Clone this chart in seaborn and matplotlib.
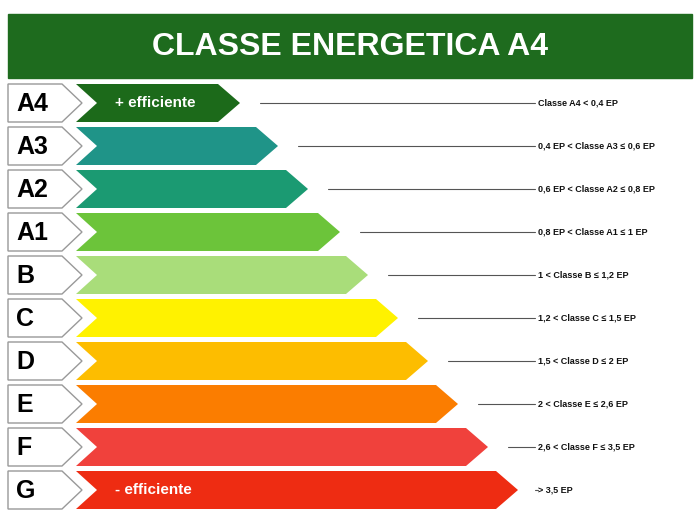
import matplotlib
matplotlib.use("Agg")
import matplotlib.pyplot as plt
from matplotlib.patches import Polygon, Rectangle
import seaborn as sns

sns.set_theme(style="white")
plt.rcParams['font.family'] = ['Liberation Sans', 'DejaVu Sans']

# classi, lunghezza freccia (punta, px) e soglie
classi = ["A4", "A3", "A2", "A1", "B", "C", "D", "E", "F", "G"]
punte = [240, 278, 308, 340, 368, 398, 428, 458, 488, 518]
soglie = [
    "Classe A4 < 0,4 EP",
    "0,4 EP < Classe A3 ≤ 0,6 EP",
    "0,6 EP < Classe A2 ≤ 0,8 EP",
    "0,8 EP < Classe A1 ≤ 1 EP",
    "1 < Classe B ≤ 1,2 EP",
    "1,2 < Classe C ≤ 1,5 EP",
    "1,5 < Classe D ≤ 2 EP",
    "2 < Classe E ≤ 2,6 EP",
    "2,6 < Classe F ≤ 3,5 EP",
    "> 3,5 EP",
]
colori = ["#1c6a1a", "#1f9488", "#1b9a72", "#6cc43a", "#a9dd7a",
          "#fff200", "#fdbd00", "#fb7d00", "#f0413c", "#ee2c12"]
note = {0: "+ efficiente", 9: "- efficiente"}

fig = plt.figure(figsize=(7, 5.25), dpi=100)
ax = fig.add_axes([0, 0, 1, 1])
ax.set_xlim(0, 700)
ax.set_ylim(525, 0)
ax.axis("off")

# banda del titolo
ax.add_patch(Rectangle((8, 14), 684, 64, color="#1e6b1e"))
ax.text(350, 47, "CLASSE ENERGETICA A4", color="white", fontsize=23,
        fontweight="bold", ha="center", va="center")

h = 19  # mezza altezza riga
for i, (c, tip, s, col) in enumerate(zip(classi, punte, soglie, colori)):
    y = 103 + 43 * i
    # etichetta a sinistra
    ax.add_patch(Polygon([(8, y - h), (62, y - h), (82, y), (62, y + h), (8, y + h)],
                         closed=True, facecolor="white", edgecolor="#999999", lw=1))
    ax.text(16, y + 1, c, fontsize=18, fontweight="bold", va="center", color="black")
    # freccia colorata
    ax.add_patch(Polygon([(76, y - h), (tip - 22, y - h), (tip, y), (tip - 22, y + h),
                          (76, y + h), (97, y)], closed=True, facecolor=col, edgecolor="none"))
    if i in note:
        ax.text(115, y, note[i], color="white", fontsize=11, fontweight="bold", va="center")
    # linea e soglia
    ax.plot([tip + 20, 535], [y, y], color="#555555", lw=0.8)
    ax.text(538, y, s, fontsize=6.5, fontweight="bold", va="center", color="#111111")

fig.savefig("out.png", dpi=100)
